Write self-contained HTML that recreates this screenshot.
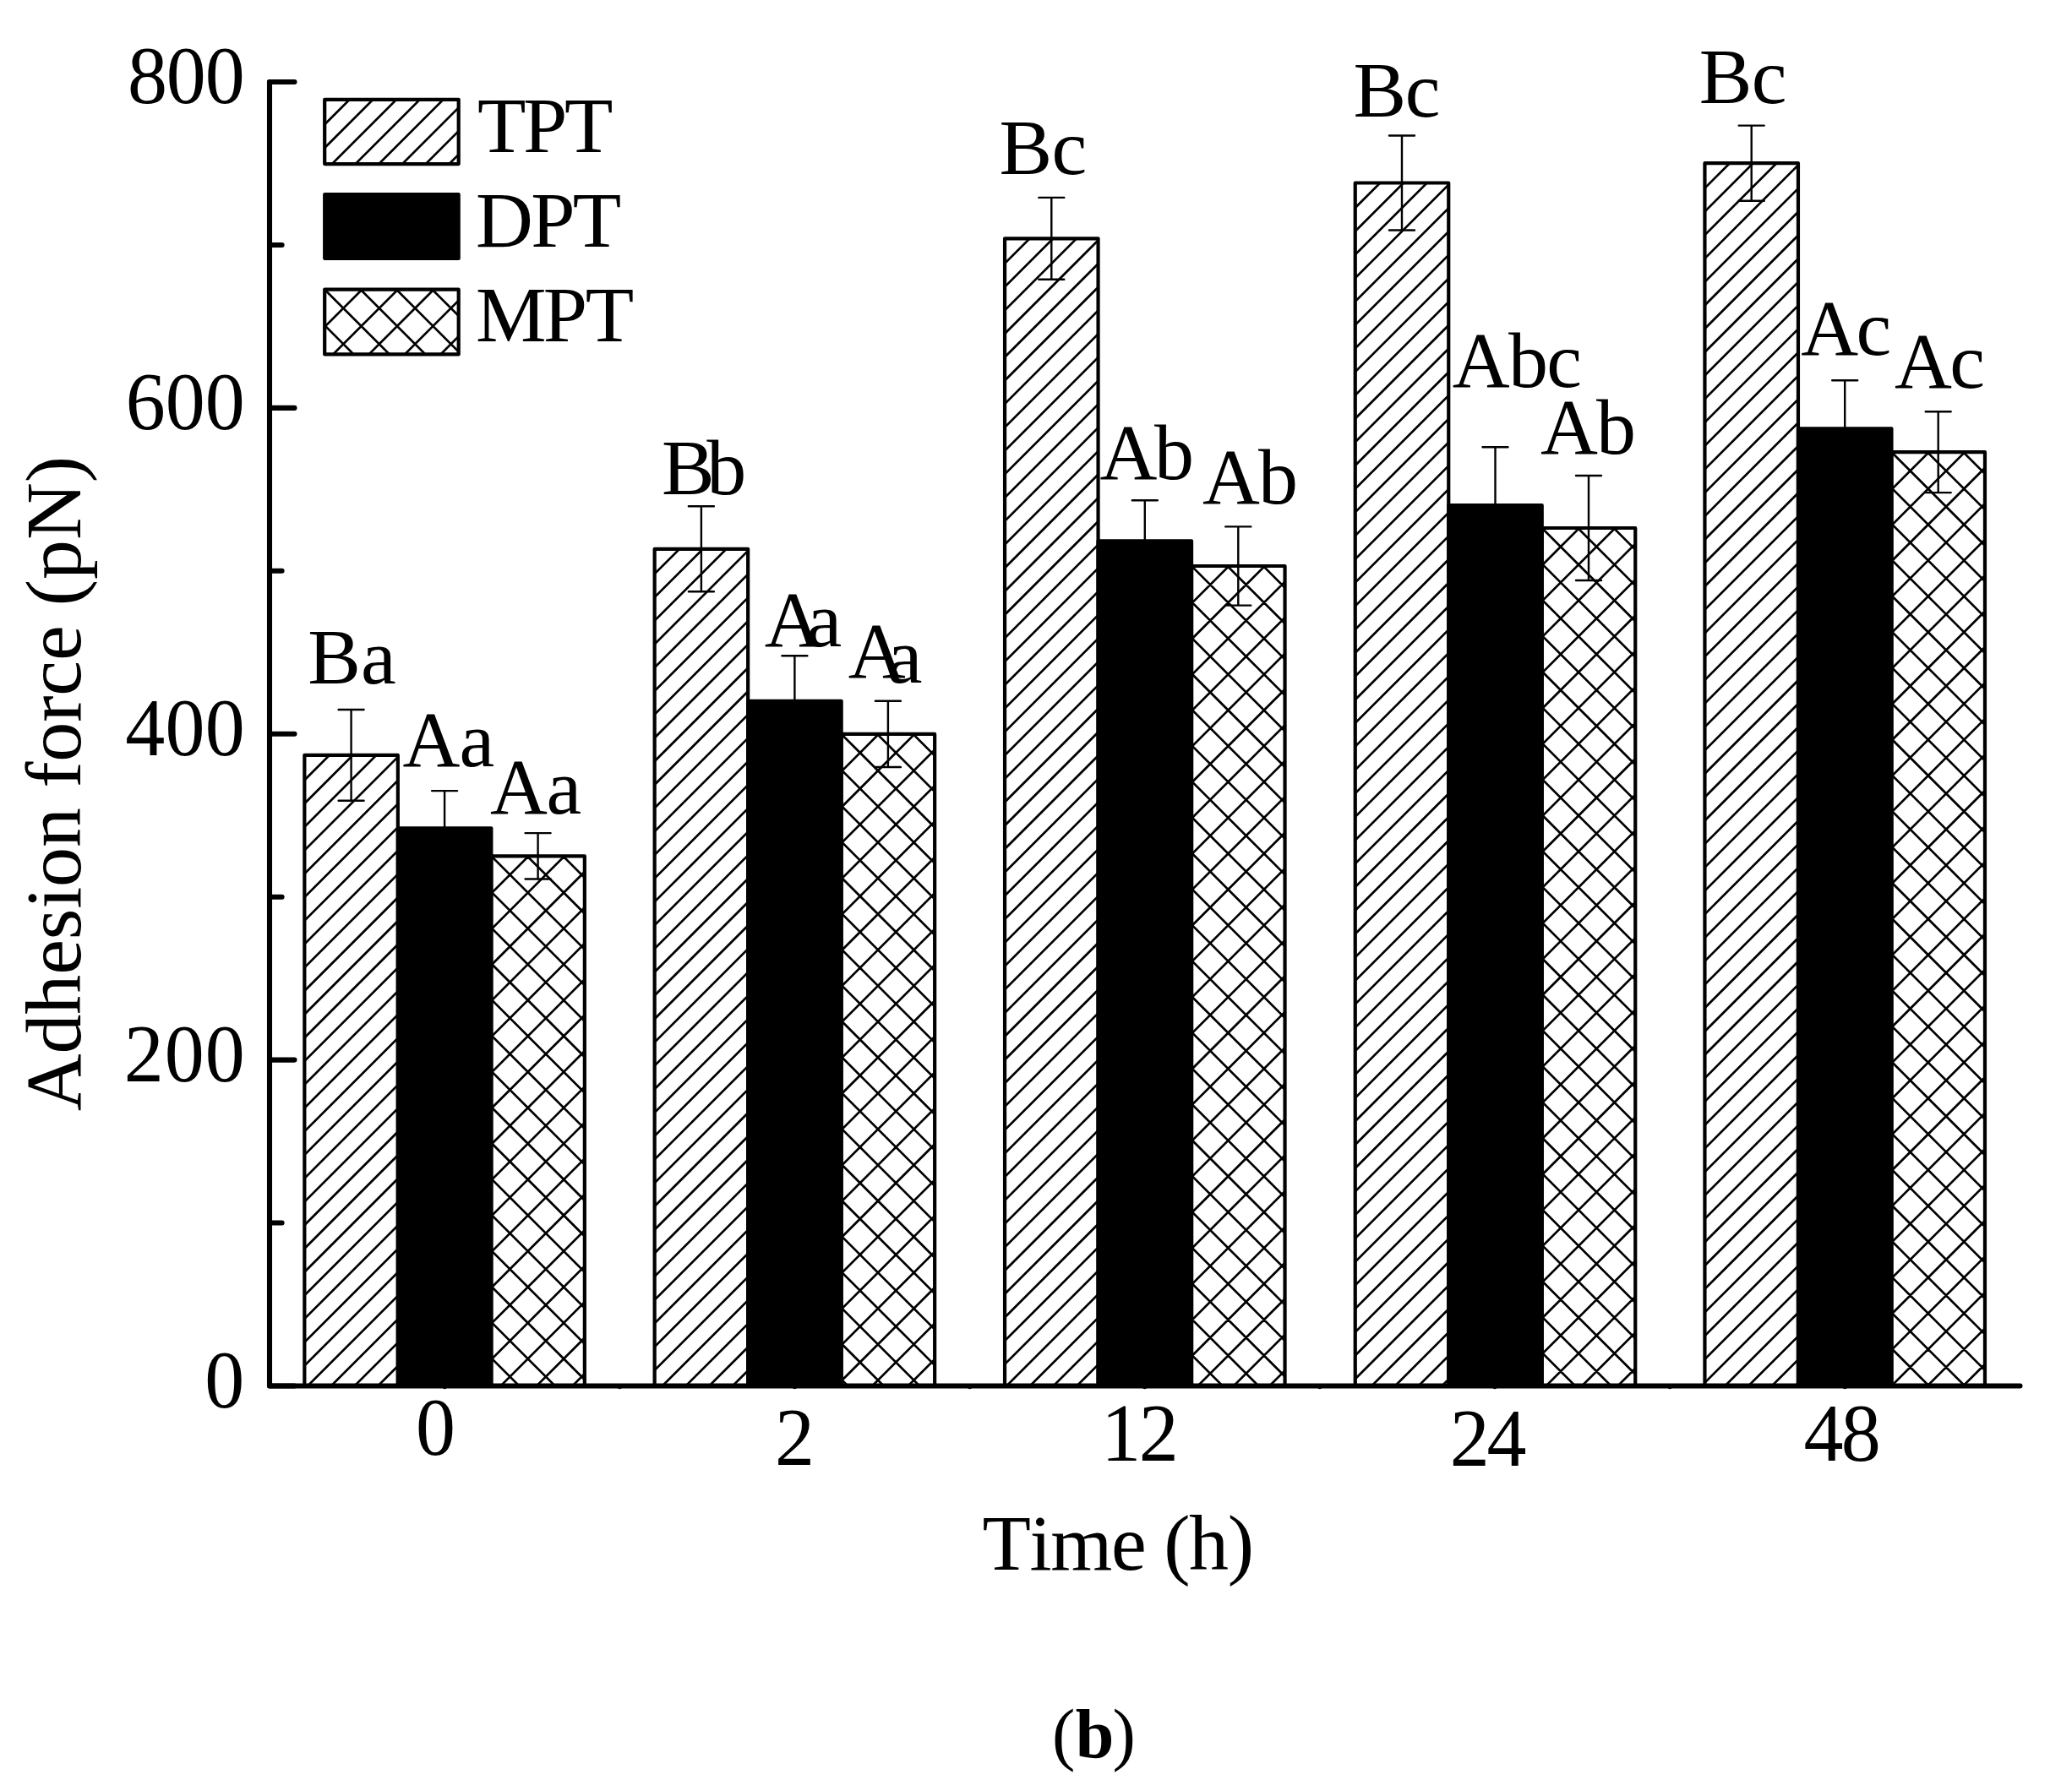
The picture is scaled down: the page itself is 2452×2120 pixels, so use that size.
<!DOCTYPE html>
<html><head><meta charset="utf-8"><title>Adhesion force (b)</title>
<style>html,body{margin:0;padding:0;background:#fff}svg{display:block}text{font-family:"Liberation Serif",serif;fill:#000;font-kerning:none;white-space:pre}</style></head>
<body>
<svg width="2452" height="2120" viewBox="0 0 2452 2120">
<rect width="2452" height="2120" fill="#fff"/>
<defs><clipPath id="c1"><rect x="360.35" y="893.9" width="110.5" height="746.6"/></clipPath><clipPath id="c2"><rect x="581.35" y="1013.3" width="110.5" height="627.2"/></clipPath><clipPath id="c3"><rect x="774.65" y="649.8" width="110.5" height="990.7"/></clipPath><clipPath id="c4"><rect x="995.65" y="868.9" width="110.5" height="771.6"/></clipPath><clipPath id="c5"><rect x="1189.05" y="282.3" width="110.5" height="1358.2"/></clipPath><clipPath id="c6"><rect x="1410.05" y="670" width="110.5" height="970.5"/></clipPath><clipPath id="c7"><rect x="1603.75" y="216.5" width="110.5" height="1424"/></clipPath><clipPath id="c8"><rect x="1824.75" y="625" width="110.5" height="1015.5"/></clipPath><clipPath id="c9"><rect x="2017.45" y="193.2" width="110.5" height="1447.3"/></clipPath><clipPath id="c10"><rect x="2238.45" y="535.2" width="110.5" height="1105.3"/></clipPath><clipPath id="c11"><rect x="384.2" y="117.8" width="158.5" height="76.3"/></clipPath><clipPath id="c12"><rect x="384.2" y="342.7" width="158.5" height="76.7"/></clipPath></defs>
<rect x="360.35" y="893.9" width="110.5" height="746.6" fill="#fff" stroke="none"/>
<path clip-path="url(#c1)" d="M357.35 926.4L392.85 890.9M357.35 954.12L420.58 890.9M357.35 981.85L448.3 890.9M357.35 1009.58L476.03 890.9M357.35 1037.3L503.75 890.9M357.35 1065.03L531.48 890.9M357.35 1092.75L559.2 890.9M357.35 1120.47L586.92 890.9M357.35 1148.2L614.65 890.9M357.35 1175.92L642.38 890.9M357.35 1203.65L670.1 890.9M357.35 1231.38L697.83 890.9M357.35 1259.1L725.55 890.9M357.35 1286.83L753.28 890.9M357.35 1314.55L781 890.9M357.35 1342.28L808.73 890.9M357.35 1370L836.45 890.9M357.35 1397.73L864.18 890.9M357.35 1425.45L891.9 890.9M357.35 1453.18L919.63 890.9M357.35 1480.9L947.35 890.9M357.35 1508.63L975.08 890.9M357.35 1536.35L1002.8 890.9M357.35 1564.08L1030.53 890.9M357.35 1591.8L1058.25 890.9M357.35 1619.53L1085.98 890.9M357.35 1647.25L1113.7 890.9M357.35 1674.98L1141.43 890.9M357.35 1702.7L1169.15 890.9M357.35 1730.43L1196.88 890.9M357.35 1758.15L1224.6 890.9" fill="none" stroke="#000" stroke-width="2.7"/>
<rect x="360.35" y="893.9" width="110.5" height="746.6" fill="none" stroke="#000" stroke-width="4.2" stroke-linejoin="round"/>
<rect x="581.35" y="1013.3" width="110.5" height="627.2" fill="#fff" stroke="none"/>
<path clip-path="url(#c2)" d="M578.35 1060.54L628.59 1010.3M578.35 1102.98L671.03 1010.3M578.35 1145.42L713.47 1010.3M578.35 1187.86L755.91 1010.3M578.35 1230.3L798.35 1010.3M578.35 1272.74L840.79 1010.3M578.35 1315.18L883.23 1010.3M578.35 1357.62L925.67 1010.3M578.35 1400.06L968.11 1010.3M578.35 1442.5L1010.55 1010.3M578.35 1484.94L1052.99 1010.3M578.35 1527.38L1095.43 1010.3M578.35 1569.82L1137.87 1010.3M578.35 1612.26L1180.31 1010.3M578.35 1654.7L1222.75 1010.3M578.35 1697.14L1265.19 1010.3M578.35 1739.58L1307.63 1010.3M-58.25 1010.3L574.95 1643.5M-15.81 1010.3L617.39 1643.5M26.63 1010.3L659.83 1643.5M69.07 1010.3L702.27 1643.5M111.51 1010.3L744.71 1643.5M153.95 1010.3L787.15 1643.5M196.39 1010.3L829.59 1643.5M238.83 1010.3L872.03 1643.5M281.27 1010.3L914.47 1643.5M323.71 1010.3L956.91 1643.5M366.15 1010.3L999.35 1643.5M408.59 1010.3L1041.79 1643.5M451.03 1010.3L1084.23 1643.5M493.47 1010.3L1126.67 1643.5M535.91 1010.3L1169.11 1643.5M578.35 1010.3L1211.55 1643.5M620.79 1010.3L1253.99 1643.5M663.23 1010.3L1296.43 1643.5" fill="none" stroke="#000" stroke-width="2.7"/>
<rect x="581.35" y="1013.3" width="110.5" height="627.2" fill="none" stroke="#000" stroke-width="4.2" stroke-linejoin="round"/>
<rect x="470.85" y="980.3" width="110.5" height="660.2" fill="#000" stroke="#000" stroke-width="4.2" stroke-linejoin="round"/>
<path d="M415.6 840V947.8M400.6 840H430.6M400.6 947.8H430.6" fill="none" stroke="#000" stroke-width="2.4" stroke-linecap="round"/>
<path d="M526.1 936.1V1024.5M511.1 936.1H541.1M511.1 1024.5H541.1" fill="none" stroke="#000" stroke-width="2.4" stroke-linecap="round"/>
<path d="M636.6 986.1V1040.5M621.6 986.1H651.6M621.6 1040.5H651.6" fill="none" stroke="#000" stroke-width="2.4" stroke-linecap="round"/>
<rect x="774.65" y="649.8" width="110.5" height="990.7" fill="#fff" stroke="none"/>
<path clip-path="url(#c3)" d="M771.65 682.3L807.15 646.8M771.65 710.02L834.88 646.8M771.65 737.75L862.6 646.8M771.65 765.47L890.33 646.8M771.65 793.2L918.05 646.8M771.65 820.92L945.77 646.8M771.65 848.65L973.5 646.8M771.65 876.38L1001.22 646.8M771.65 904.1L1028.95 646.8M771.65 931.82L1056.67 646.8M771.65 959.55L1084.4 646.8M771.65 987.27L1112.12 646.8M771.65 1015L1139.85 646.8M771.65 1042.72L1167.58 646.8M771.65 1070.45L1195.3 646.8M771.65 1098.18L1223.03 646.8M771.65 1125.9L1250.75 646.8M771.65 1153.62L1278.48 646.8M771.65 1181.35L1306.2 646.8M771.65 1209.08L1333.93 646.8M771.65 1236.8L1361.65 646.8M771.65 1264.53L1389.38 646.8M771.65 1292.25L1417.1 646.8M771.65 1319.98L1444.83 646.8M771.65 1347.7L1472.55 646.8M771.65 1375.43L1500.28 646.8M771.65 1403.15L1528 646.8M771.65 1430.88L1555.73 646.8M771.65 1458.6L1583.45 646.8M771.65 1486.33L1611.18 646.8M771.65 1514.05L1638.9 646.8M771.65 1541.78L1666.63 646.8M771.65 1569.5L1694.35 646.8M771.65 1597.23L1722.08 646.8M771.65 1624.95L1749.8 646.8M771.65 1652.68L1777.53 646.8M771.65 1680.4L1805.25 646.8M771.65 1708.13L1832.98 646.8M771.65 1735.85L1860.7 646.8" fill="none" stroke="#000" stroke-width="2.7"/>
<rect x="774.65" y="649.8" width="110.5" height="990.7" fill="none" stroke="#000" stroke-width="4.2" stroke-linejoin="round"/>
<rect x="995.65" y="868.9" width="110.5" height="771.6" fill="#fff" stroke="none"/>
<path clip-path="url(#c4)" d="M992.65 916.14L1042.89 865.9M992.65 958.58L1085.33 865.9M992.65 1001.02L1127.77 865.9M992.65 1043.46L1170.21 865.9M992.65 1085.9L1212.65 865.9M992.65 1128.34L1255.09 865.9M992.65 1170.78L1297.53 865.9M992.65 1213.22L1339.97 865.9M992.65 1255.66L1382.41 865.9M992.65 1298.1L1424.85 865.9M992.65 1340.54L1467.29 865.9M992.65 1382.98L1509.73 865.9M992.65 1425.42L1552.17 865.9M992.65 1467.86L1594.61 865.9M992.65 1510.3L1637.05 865.9M992.65 1552.74L1679.49 865.9M992.65 1595.18L1721.93 865.9M992.65 1637.62L1764.37 865.9M992.65 1680.06L1806.81 865.9M992.65 1722.5L1849.25 865.9M186.29 865.9L963.89 1643.5M228.73 865.9L1006.33 1643.5M271.17 865.9L1048.77 1643.5M313.61 865.9L1091.21 1643.5M356.05 865.9L1133.65 1643.5M398.49 865.9L1176.09 1643.5M440.93 865.9L1218.53 1643.5M483.37 865.9L1260.97 1643.5M525.81 865.9L1303.41 1643.5M568.25 865.9L1345.85 1643.5M610.69 865.9L1388.29 1643.5M653.13 865.9L1430.73 1643.5M695.57 865.9L1473.17 1643.5M738.01 865.9L1515.61 1643.5M780.45 865.9L1558.05 1643.5M822.89 865.9L1600.49 1643.5M865.33 865.9L1642.93 1643.5M907.77 865.9L1685.37 1643.5M950.21 865.9L1727.81 1643.5M992.65 865.9L1770.25 1643.5M1035.09 865.9L1812.69 1643.5M1077.53 865.9L1855.13 1643.5" fill="none" stroke="#000" stroke-width="2.7"/>
<rect x="995.65" y="868.9" width="110.5" height="771.6" fill="none" stroke="#000" stroke-width="4.2" stroke-linejoin="round"/>
<rect x="885.15" y="829.8" width="110.5" height="810.7" fill="#000" stroke="#000" stroke-width="4.2" stroke-linejoin="round"/>
<path d="M829.9 599.3V700.3M814.9 599.3H844.9M814.9 700.3H844.9" fill="none" stroke="#000" stroke-width="2.4" stroke-linecap="round"/>
<path d="M940.4 776.2V883.4M925.4 776.2H955.4M925.4 883.4H955.4" fill="none" stroke="#000" stroke-width="2.4" stroke-linecap="round"/>
<path d="M1050.9 829.8V908M1035.9 829.8H1065.9M1035.9 908H1065.9" fill="none" stroke="#000" stroke-width="2.4" stroke-linecap="round"/>
<rect x="1189.05" y="282.3" width="110.5" height="1358.2" fill="#fff" stroke="none"/>
<path clip-path="url(#c5)" d="M1186.05 314.8L1221.55 279.3M1186.05 342.53L1249.27 279.3M1186.05 370.25L1277 279.3M1186.05 397.98L1304.72 279.3M1186.05 425.7L1332.45 279.3M1186.05 453.43L1360.17 279.3M1186.05 481.15L1387.9 279.3M1186.05 508.88L1415.62 279.3M1186.05 536.6L1443.35 279.3M1186.05 564.33L1471.07 279.3M1186.05 592.05L1498.8 279.3M1186.05 619.78L1526.53 279.3M1186.05 647.5L1554.25 279.3M1186.05 675.23L1581.97 279.3M1186.05 702.95L1609.7 279.3M1186.05 730.68L1637.43 279.3M1186.05 758.4L1665.15 279.3M1186.05 786.13L1692.88 279.3M1186.05 813.85L1720.6 279.3M1186.05 841.58L1748.33 279.3M1186.05 869.3L1776.05 279.3M1186.05 897.03L1803.78 279.3M1186.05 924.75L1831.5 279.3M1186.05 952.48L1859.23 279.3M1186.05 980.2L1886.95 279.3M1186.05 1007.93L1914.68 279.3M1186.05 1035.65L1942.4 279.3M1186.05 1063.38L1970.13 279.3M1186.05 1091.1L1997.85 279.3M1186.05 1118.83L2025.58 279.3M1186.05 1146.55L2053.3 279.3M1186.05 1174.28L2081.03 279.3M1186.05 1202L2108.75 279.3M1186.05 1229.73L2136.48 279.3M1186.05 1257.45L2164.2 279.3M1186.05 1285.18L2191.93 279.3M1186.05 1312.9L2219.65 279.3M1186.05 1340.63L2247.38 279.3M1186.05 1368.35L2275.1 279.3M1186.05 1396.08L2302.83 279.3M1186.05 1423.8L2330.55 279.3M1186.05 1451.53L2358.28 279.3M1186.05 1479.25L2386 279.3M1186.05 1506.97L2413.72 279.3M1186.05 1534.7L2441.45 279.3M1186.05 1562.42L2469.17 279.3M1186.05 1590.15L2496.9 279.3M1186.05 1617.87L2524.62 279.3M1186.05 1645.6L2552.35 279.3M1186.05 1673.32L2580.07 279.3M1186.05 1701.05L2607.8 279.3M1186.05 1728.77L2635.52 279.3M1186.05 1756.5L2663.25 279.3" fill="none" stroke="#000" stroke-width="2.7"/>
<rect x="1189.05" y="282.3" width="110.5" height="1358.2" fill="none" stroke="#000" stroke-width="4.2" stroke-linejoin="round"/>
<rect x="1410.05" y="670" width="110.5" height="970.5" fill="#fff" stroke="none"/>
<path clip-path="url(#c6)" d="M1407.05 717.24L1457.29 667M1407.05 759.68L1499.73 667M1407.05 802.12L1542.17 667M1407.05 844.56L1584.61 667M1407.05 887L1627.05 667M1407.05 929.44L1669.49 667M1407.05 971.88L1711.93 667M1407.05 1014.32L1754.37 667M1407.05 1056.76L1796.81 667M1407.05 1099.2L1839.25 667M1407.05 1141.64L1881.69 667M1407.05 1184.08L1924.13 667M1407.05 1226.52L1966.57 667M1407.05 1268.96L2009.01 667M1407.05 1311.4L2051.45 667M1407.05 1353.84L2093.89 667M1407.05 1396.28L2136.33 667M1407.05 1438.72L2178.77 667M1407.05 1481.16L2221.21 667M1407.05 1523.6L2263.65 667M1407.05 1566.04L2306.09 667M1407.05 1608.48L2348.53 667M1407.05 1650.92L2390.97 667M1407.05 1693.36L2433.41 667M1407.05 1735.8L2475.85 667M430.93 667L1407.43 1643.5M473.37 667L1449.87 1643.5M515.81 667L1492.31 1643.5M558.25 667L1534.75 1643.5M600.69 667L1577.19 1643.5M643.13 667L1619.63 1643.5M685.57 667L1662.07 1643.5M728.01 667L1704.51 1643.5M770.45 667L1746.95 1643.5M812.89 667L1789.39 1643.5M855.33 667L1831.83 1643.5M897.77 667L1874.27 1643.5M940.21 667L1916.71 1643.5M982.65 667L1959.15 1643.5M1025.09 667L2001.59 1643.5M1067.53 667L2044.03 1643.5M1109.97 667L2086.47 1643.5M1152.41 667L2128.91 1643.5M1194.85 667L2171.35 1643.5M1237.29 667L2213.79 1643.5M1279.73 667L2256.23 1643.5M1322.17 667L2298.67 1643.5M1364.61 667L2341.11 1643.5M1407.05 667L2383.55 1643.5M1449.49 667L2425.99 1643.5M1491.93 667L2468.43 1643.5" fill="none" stroke="#000" stroke-width="2.7"/>
<rect x="1410.05" y="670" width="110.5" height="970.5" fill="none" stroke="#000" stroke-width="4.2" stroke-linejoin="round"/>
<rect x="1299.55" y="640.3" width="110.5" height="1000.2" fill="#000" stroke="#000" stroke-width="4.2" stroke-linejoin="round"/>
<path d="M1244.3 233.9V330.7M1229.3 233.9H1259.3M1229.3 330.7H1259.3" fill="none" stroke="#000" stroke-width="2.4" stroke-linecap="round"/>
<path d="M1354.8 592.2V688.4M1339.8 592.2H1369.8M1339.8 688.4H1369.8" fill="none" stroke="#000" stroke-width="2.4" stroke-linecap="round"/>
<path d="M1465.3 623.4V716.6M1450.3 623.4H1480.3M1450.3 716.6H1480.3" fill="none" stroke="#000" stroke-width="2.4" stroke-linecap="round"/>
<rect x="1603.75" y="216.5" width="110.5" height="1424" fill="#fff" stroke="none"/>
<path clip-path="url(#c7)" d="M1600.75 249L1636.25 213.5M1600.75 276.73L1663.97 213.5M1600.75 304.45L1691.7 213.5M1600.75 332.18L1719.42 213.5M1600.75 359.9L1747.15 213.5M1600.75 387.62L1774.88 213.5M1600.75 415.35L1802.6 213.5M1600.75 443.07L1830.33 213.5M1600.75 470.8L1858.05 213.5M1600.75 498.52L1885.78 213.5M1600.75 526.25L1913.5 213.5M1600.75 553.98L1941.22 213.5M1600.75 581.7L1968.95 213.5M1600.75 609.43L1996.68 213.5M1600.75 637.15L2024.4 213.5M1600.75 664.88L2052.12 213.5M1600.75 692.6L2079.85 213.5M1600.75 720.33L2107.58 213.5M1600.75 748.05L2135.3 213.5M1600.75 775.78L2163.03 213.5M1600.75 803.5L2190.75 213.5M1600.75 831.23L2218.48 213.5M1600.75 858.95L2246.2 213.5M1600.75 886.68L2273.93 213.5M1600.75 914.4L2301.65 213.5M1600.75 942.13L2329.38 213.5M1600.75 969.85L2357.1 213.5M1600.75 997.58L2384.83 213.5M1600.75 1025.3L2412.55 213.5M1600.75 1053.03L2440.28 213.5M1600.75 1080.75L2468 213.5M1600.75 1108.48L2495.73 213.5M1600.75 1136.2L2523.45 213.5M1600.75 1163.93L2551.18 213.5M1600.75 1191.65L2578.9 213.5M1600.75 1219.38L2606.63 213.5M1600.75 1247.1L2634.35 213.5M1600.75 1274.83L2662.08 213.5M1600.75 1302.55L2689.8 213.5M1600.75 1330.28L2717.53 213.5M1600.75 1358L2745.25 213.5M1600.75 1385.73L2772.98 213.5M1600.75 1413.45L2800.7 213.5M1600.75 1441.17L2828.43 213.5M1600.75 1468.9L2856.15 213.5M1600.75 1496.62L2883.88 213.5M1600.75 1524.35L2911.6 213.5M1600.75 1552.07L2939.32 213.5M1600.75 1579.8L2967.05 213.5M1600.75 1607.52L2994.77 213.5M1600.75 1635.25L3022.5 213.5M1600.75 1662.97L3050.22 213.5M1600.75 1690.7L3077.95 213.5M1600.75 1718.42L3105.67 213.5M1600.75 1746.15L3133.4 213.5" fill="none" stroke="#000" stroke-width="2.7"/>
<rect x="1603.75" y="216.5" width="110.5" height="1424" fill="none" stroke="#000" stroke-width="4.2" stroke-linejoin="round"/>
<rect x="1824.75" y="625" width="110.5" height="1015.5" fill="#fff" stroke="none"/>
<path clip-path="url(#c8)" d="M1821.75 672.24L1871.99 622M1821.75 714.68L1914.43 622M1821.75 757.12L1956.87 622M1821.75 799.56L1999.31 622M1821.75 842L2041.75 622M1821.75 884.44L2084.19 622M1821.75 926.88L2126.63 622M1821.75 969.32L2169.07 622M1821.75 1011.76L2211.51 622M1821.75 1054.2L2253.95 622M1821.75 1096.64L2296.39 622M1821.75 1139.08L2338.83 622M1821.75 1181.52L2381.27 622M1821.75 1223.96L2423.71 622M1821.75 1266.4L2466.15 622M1821.75 1308.84L2508.59 622M1821.75 1351.28L2551.03 622M1821.75 1393.72L2593.47 622M1821.75 1436.16L2635.91 622M1821.75 1478.6L2678.35 622M1821.75 1521.04L2720.79 622M1821.75 1563.48L2763.23 622M1821.75 1605.92L2805.67 622M1821.75 1648.36L2848.11 622M1821.75 1690.8L2890.55 622M1821.75 1733.24L2932.99 622M803.19 622L1824.69 1643.5M845.63 622L1867.13 1643.5M888.07 622L1909.57 1643.5M930.51 622L1952.01 1643.5M972.95 622L1994.45 1643.5M1015.39 622L2036.89 1643.5M1057.83 622L2079.33 1643.5M1100.27 622L2121.77 1643.5M1142.71 622L2164.21 1643.5M1185.15 622L2206.65 1643.5M1227.59 622L2249.09 1643.5M1270.03 622L2291.53 1643.5M1312.47 622L2333.97 1643.5M1354.91 622L2376.41 1643.5M1397.35 622L2418.85 1643.5M1439.79 622L2461.29 1643.5M1482.23 622L2503.73 1643.5M1524.67 622L2546.17 1643.5M1567.11 622L2588.61 1643.5M1609.55 622L2631.05 1643.5M1651.99 622L2673.49 1643.5M1694.43 622L2715.93 1643.5M1736.87 622L2758.37 1643.5M1779.31 622L2800.81 1643.5M1821.75 622L2843.25 1643.5M1864.19 622L2885.69 1643.5M1906.63 622L2928.13 1643.5" fill="none" stroke="#000" stroke-width="2.7"/>
<rect x="1824.75" y="625" width="110.5" height="1015.5" fill="none" stroke="#000" stroke-width="4.2" stroke-linejoin="round"/>
<rect x="1714.25" y="598.2" width="110.5" height="1042.3" fill="#000" stroke="#000" stroke-width="4.2" stroke-linejoin="round"/>
<path d="M1659 160.5V272.5M1644 160.5H1674M1644 272.5H1674" fill="none" stroke="#000" stroke-width="2.4" stroke-linecap="round"/>
<path d="M1769.5 529.2V667.2M1754.5 529.2H1784.5M1754.5 667.2H1784.5" fill="none" stroke="#000" stroke-width="2.4" stroke-linecap="round"/>
<path d="M1880 563V687M1865 563H1895M1865 687H1895" fill="none" stroke="#000" stroke-width="2.4" stroke-linecap="round"/>
<rect x="2017.45" y="193.2" width="110.5" height="1447.3" fill="#fff" stroke="none"/>
<path clip-path="url(#c9)" d="M2014.45 225.7L2049.95 190.2M2014.45 253.42L2077.67 190.2M2014.45 281.15L2105.4 190.2M2014.45 308.88L2133.12 190.2M2014.45 336.6L2160.85 190.2M2014.45 364.32L2188.57 190.2M2014.45 392.05L2216.3 190.2M2014.45 419.77L2244.02 190.2M2014.45 447.5L2271.75 190.2M2014.45 475.22L2299.47 190.2M2014.45 502.95L2327.2 190.2M2014.45 530.67L2354.92 190.2M2014.45 558.4L2382.65 190.2M2014.45 586.12L2410.38 190.2M2014.45 613.85L2438.1 190.2M2014.45 641.58L2465.82 190.2M2014.45 669.3L2493.55 190.2M2014.45 697.03L2521.28 190.2M2014.45 724.75L2549 190.2M2014.45 752.48L2576.72 190.2M2014.45 780.2L2604.45 190.2M2014.45 807.93L2632.18 190.2M2014.45 835.65L2659.9 190.2M2014.45 863.38L2687.62 190.2M2014.45 891.1L2715.35 190.2M2014.45 918.83L2743.08 190.2M2014.45 946.55L2770.8 190.2M2014.45 974.28L2798.53 190.2M2014.45 1002L2826.25 190.2M2014.45 1029.73L2853.98 190.2M2014.45 1057.45L2881.7 190.2M2014.45 1085.18L2909.43 190.2M2014.45 1112.9L2937.15 190.2M2014.45 1140.63L2964.88 190.2M2014.45 1168.35L2992.6 190.2M2014.45 1196.08L3020.33 190.2M2014.45 1223.8L3048.05 190.2M2014.45 1251.53L3075.78 190.2M2014.45 1279.25L3103.5 190.2M2014.45 1306.98L3131.23 190.2M2014.45 1334.7L3158.95 190.2M2014.45 1362.43L3186.68 190.2M2014.45 1390.15L3214.4 190.2M2014.45 1417.88L3242.12 190.2M2014.45 1445.6L3269.85 190.2M2014.45 1473.32L3297.57 190.2M2014.45 1501.05L3325.3 190.2M2014.45 1528.77L3353.02 190.2M2014.45 1556.5L3380.75 190.2M2014.45 1584.22L3408.47 190.2M2014.45 1611.95L3436.2 190.2M2014.45 1639.67L3463.92 190.2M2014.45 1667.4L3491.65 190.2M2014.45 1695.12L3519.37 190.2M2014.45 1722.85L3547.1 190.2M2014.45 1750.57L3574.82 190.2" fill="none" stroke="#000" stroke-width="2.7"/>
<rect x="2017.45" y="193.2" width="110.5" height="1447.3" fill="none" stroke="#000" stroke-width="4.2" stroke-linejoin="round"/>
<rect x="2238.45" y="535.2" width="110.5" height="1105.3" fill="#fff" stroke="none"/>
<path clip-path="url(#c10)" d="M2235.45 582.44L2285.69 532.2M2235.45 624.88L2328.13 532.2M2235.45 667.32L2370.57 532.2M2235.45 709.76L2413.01 532.2M2235.45 752.2L2455.45 532.2M2235.45 794.64L2497.89 532.2M2235.45 837.08L2540.33 532.2M2235.45 879.52L2582.77 532.2M2235.45 921.96L2625.21 532.2M2235.45 964.4L2667.65 532.2M2235.45 1006.84L2710.09 532.2M2235.45 1049.28L2752.53 532.2M2235.45 1091.72L2794.97 532.2M2235.45 1134.16L2837.41 532.2M2235.45 1176.6L2879.85 532.2M2235.45 1219.04L2922.29 532.2M2235.45 1261.48L2964.73 532.2M2235.45 1303.92L3007.17 532.2M2235.45 1346.36L3049.61 532.2M2235.45 1388.8L3092.05 532.2M2235.45 1431.24L3134.49 532.2M2235.45 1473.68L3176.93 532.2M2235.45 1516.12L3219.37 532.2M2235.45 1558.56L3261.81 532.2M2235.45 1601L3304.25 532.2M2235.45 1643.44L3346.69 532.2M2235.45 1685.88L3389.13 532.2M2235.45 1728.32L3431.57 532.2M1089.57 532.2L2200.87 1643.5M1132.01 532.2L2243.31 1643.5M1174.45 532.2L2285.75 1643.5M1216.89 532.2L2328.19 1643.5M1259.33 532.2L2370.63 1643.5M1301.77 532.2L2413.07 1643.5M1344.21 532.2L2455.51 1643.5M1386.65 532.2L2497.95 1643.5M1429.09 532.2L2540.39 1643.5M1471.53 532.2L2582.83 1643.5M1513.97 532.2L2625.27 1643.5M1556.41 532.2L2667.71 1643.5M1598.85 532.2L2710.15 1643.5M1641.29 532.2L2752.59 1643.5M1683.73 532.2L2795.03 1643.5M1726.17 532.2L2837.47 1643.5M1768.61 532.2L2879.91 1643.5M1811.05 532.2L2922.35 1643.5M1853.49 532.2L2964.79 1643.5M1895.93 532.2L3007.23 1643.5M1938.37 532.2L3049.67 1643.5M1980.81 532.2L3092.11 1643.5M2023.25 532.2L3134.55 1643.5M2065.69 532.2L3176.99 1643.5M2108.13 532.2L3219.43 1643.5M2150.57 532.2L3261.87 1643.5M2193.01 532.2L3304.31 1643.5M2235.45 532.2L3346.75 1643.5M2277.89 532.2L3389.19 1643.5M2320.33 532.2L3431.63 1643.5" fill="none" stroke="#000" stroke-width="2.7"/>
<rect x="2238.45" y="535.2" width="110.5" height="1105.3" fill="none" stroke="#000" stroke-width="4.2" stroke-linejoin="round"/>
<rect x="2127.95" y="507.3" width="110.5" height="1133.2" fill="#000" stroke="#000" stroke-width="4.2" stroke-linejoin="round"/>
<path d="M2072.7 148.6V237.8M2057.7 148.6H2087.7M2057.7 237.8H2087.7" fill="none" stroke="#000" stroke-width="2.4" stroke-linecap="round"/>
<path d="M2183.2 450.2V564.4M2168.2 450.2H2198.2M2168.2 564.4H2198.2" fill="none" stroke="#000" stroke-width="2.4" stroke-linecap="round"/>
<path d="M2293.7 487.3V583.1M2278.7 487.3H2308.7M2278.7 583.1H2308.7" fill="none" stroke="#000" stroke-width="2.4" stroke-linecap="round"/>
<rect x="384.2" y="117.8" width="158.5" height="76.3" fill="#fff" stroke="none"/>
<path clip-path="url(#c11)" d="M381.2 150.3L416.7 114.8M381.2 178.03L444.43 114.8M381.2 205.75L472.15 114.8M381.2 233.48L499.88 114.8M381.2 261.2L527.6 114.8M381.2 288.93L555.33 114.8M381.2 316.65L583.05 114.8M381.2 344.38L610.77 114.8" fill="none" stroke="#000" stroke-width="2.7"/>
<rect x="384.2" y="117.8" width="158.5" height="76.3" fill="none" stroke="#000" stroke-width="4.2" stroke-linejoin="round"/>
<rect x="384.2" y="230.2" width="158.5" height="75.8" fill="#000" stroke="#000" stroke-width="4.2" stroke-linejoin="round"/>
<rect x="384.2" y="342.7" width="158.5" height="76.7" fill="#fff" stroke="none"/>
<path clip-path="url(#c12)" d="M381.2 389.94L431.44 339.7M381.2 432.38L473.88 339.7M381.2 474.82L516.32 339.7M381.2 517.26L558.76 339.7M381.2 559.7L601.2 339.7M296.32 339.7L379.02 422.4M338.76 339.7L421.46 422.4M381.2 339.7L463.9 422.4M423.64 339.7L506.34 422.4M466.08 339.7L548.78 422.4M508.52 339.7L591.22 422.4" fill="none" stroke="#000" stroke-width="2.7"/>
<rect x="384.2" y="342.7" width="158.5" height="76.7" fill="none" stroke="#000" stroke-width="4.2" stroke-linejoin="round"/>
<path d="M319 97V1640.5H2390.5" fill="none" stroke="#000" stroke-width="6.1" stroke-linecap="round" stroke-linejoin="round"/>
<path d="M319 1640.5H348.5M319 1447.56H333.6M319 1254.62H348.5M319 1061.69H333.6M319 868.75H348.5M319 675.81H333.6M319 482.88H348.5M319 289.94H333.6M319 97H348.5" fill="none" stroke="#000" stroke-width="6.1" stroke-linecap="round"/>
<path d="M526.2 1640.5V1641.7M733.33 1640.5V1641.7M940.45 1640.5V1641.7M1147.58 1640.5V1641.7M1354.7 1640.5V1641.7M1561.83 1640.5V1641.7M1768.95 1640.5V1641.7M1976.08 1640.5V1641.7M2183.2 1640.5V1641.7" fill="none" stroke="#000" stroke-width="5" stroke-linecap="round"/>
<text x="242.25" y="1665.7" font-size="94" transform="matrix(1 0 0 1.0260 0 -43.308)">0</text>
<text x="146.77 194.72 242.68" y="1279.83" font-size="94" transform="matrix(1 0 0 1.0260 0 -33.275)">200</text>
<text x="148.16 195.42 242.68" y="893.95" font-size="94" transform="matrix(1 0 0 1.0260 0 -23.243)">400</text>
<text x="148.76 195.72 242.68" y="508.07" font-size="94" transform="matrix(1 0 0 1.0260 0 -13.210)">600</text>
<text x="151.02 196.85 242.68" y="122.2" font-size="94" transform="matrix(1 0 0 1.0260 0 -3.177)">800</text>
<text x="492.1" y="1721.8" font-size="94" transform="matrix(1 0 0 1.0260 0 -44.767)">0</text>
<text x="916.88" y="1734" font-size="94" transform="matrix(1 0 0 1.0260 0 -45.084)">2</text>
<text x="1303.34 1347.69" y="1728.9" font-size="94" transform="matrix(1 0 0 1.0260 0 -44.951)">12</text>
<text x="1715.87 1759.47" y="1735.2" font-size="94" transform="matrix(1 0 0 1.0260 0 -45.115)">24</text>
<text x="2134.46 2178.78" y="1728.6" font-size="94" transform="matrix(1 0 0 1.0260 0 -44.944)">48</text>
<text x="1162.6 1218.57 1243.24 1314.9 1355.18 1377.23 1407.08 1452.63" y="1858.3" font-size="94">Time (h)</text>
<text x="564.9 618.99 667.94" y="179.6" font-size="94">TPT</text>
<text x="562.89 628.17 677.84" y="291.5" font-size="94">DPT</text>
<text x="562.89 642.69 692.64" y="404.2" font-size="94">MPT</text>
<text x="364.29 427.06" y="809.2" font-size="94">Ba</text>
<text x="476.58 543.56" y="907" font-size="94">Aa</text>
<text x="579.98 646.56" y="963.3" font-size="94">Aa</text>
<text x="783.09 836.18" y="585.3" font-size="94">Bb</text>
<text x="904.78 954.56" y="765.3" font-size="94">Aa</text>
<text x="1003.68 1049.76" y="802.4 808.3" font-size="94">Aa</text>
<text x="1182.49 1244.47" y="206" font-size="94">Bc</text>
<text x="1301.38 1366.08" y="567" font-size="94">Ab</text>
<text x="1422.88 1488.88" y="596.1" font-size="94">Ab</text>
<text x="1601.39 1662.87" y="138.2" font-size="94">Bc</text>
<text x="1718.78 1784.92 1830.17" y="458" font-size="94">Abc</text>
<text x="1822.88 1888.88" y="536.7" font-size="94">Ab</text>
<text x="2010.69 2072.87" y="121.5" font-size="94">Bc</text>
<text x="2131.28 2196.47" y="420" font-size="94">Ac</text>
<text x="2241.98 2307.37" y="459.2" font-size="94">Ac</text>
<text transform="rotate(-90)" x="-1315.32 -1247.58 -1200.72 -1153.87 -1112.29 -1075.85 -1049.88 -1003.02 -956.17 -932.81 -901.65 -854.8 -823.64 -782.06 -740.48 -717.13 -685.97 -639.11 -571.37" y="95" font-size="94">Adhesion force (pN)</text>
<text y="2079.7" font-size="82"><tspan x="1245">(</tspan><tspan x="1272.79" font-weight="bold">b</tspan><tspan x="1316.6">)</tspan></text>
</svg>
</body></html>
